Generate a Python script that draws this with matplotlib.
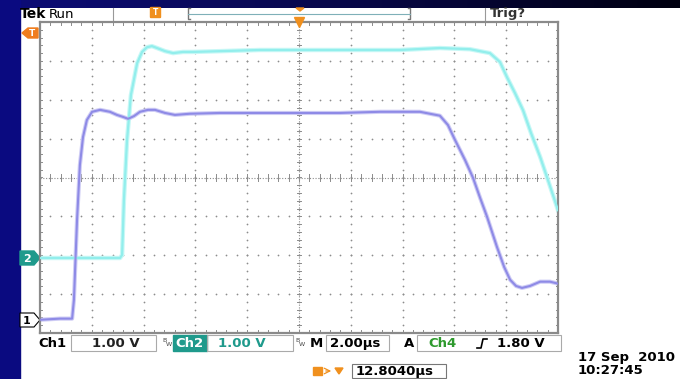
import numpy as np
import matplotlib.pyplot as plt
import matplotlib.patches as mpatches
from matplotlib.colors import LinearSegmentedColormap

# oscilloscope settings
volts_per_div = 1.00
time_per_div = 2.00  # us
ch1_pos = -3.66      # ground marker position, divisions
ch2_pos = -2.07

# channel 1 (purple) - time in us, volts
ch1_t = [0.0, 0.77, 1.24, 1.31, 1.43, 1.54, 1.66, 1.81, 2.01, 2.32, 2.70, 2.97,
         3.20, 3.40, 3.63, 3.86, 4.17, 4.44, 4.83, 5.21, 5.79, 6.95, 8.49, 10.04,
         11.58, 13.13, 14.67, 15.44, 15.75, 16.02, 16.41, 16.72, 16.99, 17.26,
         17.64, 17.92, 18.15, 18.38, 18.61, 18.92, 19.31, 19.69, 20.0]
ch1_v = [0.0, 0.03, 0.03, 0.51, 2.57, 3.98, 4.70, 5.14, 5.35, 5.40, 5.35, 5.27,
         5.22, 5.17, 5.24, 5.35, 5.40, 5.40, 5.32, 5.27, 5.30, 5.32, 5.32, 5.32,
         5.32, 5.35, 5.35, 5.25, 5.01, 4.63, 4.11, 3.65, 3.14, 2.65,
         1.88, 1.36, 1.03, 0.87, 0.82, 0.87, 0.98, 0.98, 0.93]

# channel 2 (cyan)
ch2_t = [0.0, 3.09, 3.17, 3.24, 3.36, 3.51, 3.75, 3.94, 4.13, 4.32, 4.52, 4.83,
         5.14, 5.52, 5.91, 6.95, 8.49, 10.04, 11.97, 13.90, 15.44, 16.60, 17.37,
         17.76, 18.03, 18.34, 18.65, 18.96, 19.31, 19.65, 20.0]
ch2_v = [0.0, 0.0, 0.08, 1.49, 3.03, 4.19, 5.01, 5.30, 5.42, 5.45, 5.40, 5.32,
         5.27, 5.30, 5.30, 5.32, 5.35, 5.35, 5.35, 5.35, 5.40, 5.37, 5.27,
         5.04, 4.65, 4.24, 3.80, 3.21, 2.60, 1.93, 1.23]

W, H = 680, 379
fig = plt.figure(figsize=(W / 100, H / 100), dpi=100)
fig.patch.set_facecolor("white")

# background decoration in pixel coordinates
bg = fig.add_axes([0, 0, 1, 1])
bg.set_xlim(0, W)
bg.set_ylim(H, 0)
bg.axis("off")
grad = np.linspace(0, 1, 256)[None, :]
band_cmap = LinearSegmentedColormap.from_list("band", ["#0c0c78", "#08084a", "#000010"])
bg.imshow(grad, extent=[0, W, 8, 0], cmap=band_cmap, aspect="auto", zorder=0)
bg.add_patch(mpatches.Rectangle((0, 0), 20, H, color="#0a0a80", zorder=1))

fs = 9.5
bg.text(20, 14, "Tek", fontsize=fs + 0.5, fontweight="bold", va="center", ha="left")
bg.text(49, 14, "Run", fontsize=fs, va="center", ha="left")
bg.plot([113, 113], [8, 21], color="#999999", lw=0.8)
bg.plot([485, 485], [8, 21], color="#999999", lw=0.8)
bg.text(490, 14, "Trig?", fontsize=fs, fontweight="bold", color="#333333", va="center")
bg.add_patch(mpatches.FancyBboxPatch((151, 8), 9, 9, boxstyle="round,pad=0.5",
                                     color="#f0901e", zorder=3))
bg.text(155.5, 12.8, "T", fontsize=5.5, color="white", ha="center", va="center", fontweight="bold", zorder=4)
# record bracket
bg.plot([190, 188, 188, 190], [8, 8, 19, 19], color="#777777", lw=1)
bg.plot([408, 410, 410, 408], [8, 8, 19, 19], color="#777777", lw=1)
bg.plot([188, 410], [14, 14], color="#7fb0b8", lw=0.8)
bg.add_patch(mpatches.Polygon([[296, 8], [304, 8], [300, 11]], color="#f0901e", zorder=3))

# left side markers
bg.add_patch(mpatches.Polygon([[22, 33], [28, 28], [38, 28], [38, 38], [28, 38]],
                              color="#f07d1e", zorder=3))
bg.text(32, 33.3, "T", fontsize=6.5, color="white", fontweight="bold", ha="center", va="center", zorder=4)
bg.add_patch(mpatches.Polygon([[20, 251], [34, 251], [40, 258], [34, 265], [20, 265]],
                              color="#1f9a8c", zorder=3))
bg.text(27, 258.5, "2", fontsize=8, color="white", fontweight="bold", ha="center", va="center", zorder=4)
bg.add_patch(mpatches.Polygon([[20, 313], [34, 313], [40, 320], [34, 327], [20, 327]],
                              facecolor="white", edgecolor="black", lw=0.8, zorder=3))
bg.text(27, 320.5, "1", fontsize=8, color="black", fontweight="bold", ha="center", va="center", zorder=4)

# status bar
sy = 343.5
box_c = "#aaaaaa"
bg.text(38, sy, "Ch1", fontsize=fs, fontweight="bold", va="center")
bg.add_patch(mpatches.Rectangle((71, 335), 85, 16, fill=False, ec=box_c, lw=0.8))
bg.text(92, sy, "1.00 V", fontsize=fs, fontweight="bold", va="center", color="#222222")
bg.text(162, 340, "B", fontsize=4.5, va="center", color="#444444")
bg.text(165.5, 344, "W", fontsize=4.5, va="center", color="#444444")
bg.add_patch(mpatches.Rectangle((173, 335), 34, 16, color="#1f9a8c"))
bg.text(175, sy, "Ch2", fontsize=fs, fontweight="bold", va="center", color="white")
bg.add_patch(mpatches.Rectangle((207, 335), 86, 16, fill=False, ec=box_c, lw=0.8))
bg.text(218, sy, "1.00 V", fontsize=fs, fontweight="bold", va="center", color="#1f9a8c")
bg.text(295, 340, "B", fontsize=4.5, va="center", color="#444444")
bg.text(298.5, 344, "W", fontsize=4.5, va="center", color="#444444")
bg.text(310, sy, "M", fontsize=fs, fontweight="bold", va="center")
bg.add_patch(mpatches.Rectangle((326, 335), 63, 16, fill=False, ec=box_c, lw=0.8))
bg.text(330, sy, "2.00µs", fontsize=fs, fontweight="bold", va="center")
bg.text(404, sy, "A", fontsize=fs, fontweight="bold", va="center")
bg.add_patch(mpatches.Rectangle((417, 335), 144, 16, fill=False, ec=box_c, lw=0.8))
bg.text(428, sy, "Ch4", fontsize=fs, fontweight="bold", va="center", color="#2e9a2e")
bg.plot([477, 481, 483, 487], [348, 348, 339, 339], color="black", lw=1.2)
bg.text(497, sy, "1.80 V", fontsize=fs, fontweight="bold", va="center")

bg.add_patch(mpatches.Rectangle((313, 367), 9, 8, color="#f0901e"))
bg.annotate("", xy=(334, 371), xytext=(323, 371),
            arrowprops=dict(arrowstyle="->", color="#f0901e", lw=0.9))
bg.add_patch(mpatches.Polygon([[335, 368], [343, 368], [339, 374]], color="#f0901e"))
bg.add_patch(mpatches.Rectangle((352, 364), 94, 14, fill=False, ec="#777777", lw=0.8))
bg.text(356, 371.5, "12.8040µs", fontsize=fs, fontweight="bold", va="center")
bg.text(578, 358, "17 Sep  2010", fontsize=fs, fontweight="bold", va="center")
bg.text(578, 370, "10:27:45", fontsize=fs, fontweight="bold", va="center")

# scope screen
ax = fig.add_axes([40 / W, 46 / H, 518 / W, 311 / H])
ax.set_xlim(0, 10)
ax.set_ylim(-4, 4)
ax.set_xticks([])
ax.set_yticks([])
for s in ax.spines.values():
    s.set_color("#8a8a8a")
    s.set_linewidth(1.6)

gc = "#8c8c8c"
# dotted graticule
for gx in range(1, 10):
    ys = np.arange(-4, 4.01, 0.2)
    ax.scatter(np.full_like(ys, gx), ys, s=1.6, color=gc, lw=0, zorder=1)
for gy in range(-3, 4):
    xs = np.arange(0, 10.01, 0.2)
    ax.scatter(xs, np.full_like(xs, gy), s=1.6, color=gc, lw=0, zorder=1)
# center cross with minor ticks
ax.plot([0, 10], [0, 0], color=gc, lw=0.8, ls=(0, (1, 1.5)), zorder=1)
ax.plot([5, 5], [-4, 4], color=gc, lw=0.8, ls=(0, (1, 1.5)), zorder=1)
tk = 0.08
for xm in np.arange(0, 10.01, 0.2):
    ax.plot([xm, xm], [-tk, tk], color=gc, lw=0.7, zorder=1)
    ax.plot([xm, xm], [-4, -4 + tk], color=gc, lw=0.7, zorder=1)
    ax.plot([xm, xm], [4, 4 - tk], color=gc, lw=0.7, zorder=1)
for ym in np.arange(-4, 4.01, 0.2):
    ax.plot([5 - tk * 0.6, 5 + tk * 0.6], [ym, ym], color=gc, lw=0.7, zorder=1)
    ax.plot([0, tk * 0.6], [ym, ym], color=gc, lw=0.7, zorder=1)
    ax.plot([10, 10 - tk * 0.6], [ym, ym], color=gc, lw=0.7, zorder=1)

# traces
t1 = np.asarray(ch1_t) / time_per_div
y1 = np.asarray(ch1_v) / volts_per_div + ch1_pos
t2 = np.asarray(ch2_t) / time_per_div
y2 = np.asarray(ch2_v) / volts_per_div + ch2_pos
ax.plot(t2, y2, color="#c8f8f6", lw=3.2, zorder=2, solid_joinstyle="round")
ax.plot(t2, y2, color="#92eeec", lw=1.6, zorder=3, solid_joinstyle="round")
ax.plot(t1, y1, color="#cfcdf5", lw=3.0, zorder=2, solid_joinstyle="round")
ax.plot(t1, y1, color="#8e8ae6", lw=1.5, zorder=3, solid_joinstyle="round")

# trigger position marker
ax.plot([5], [4], marker="v", color="#f0901e", markersize=7, clip_on=False, zorder=5)

fig.savefig("out.png", dpi=100)
